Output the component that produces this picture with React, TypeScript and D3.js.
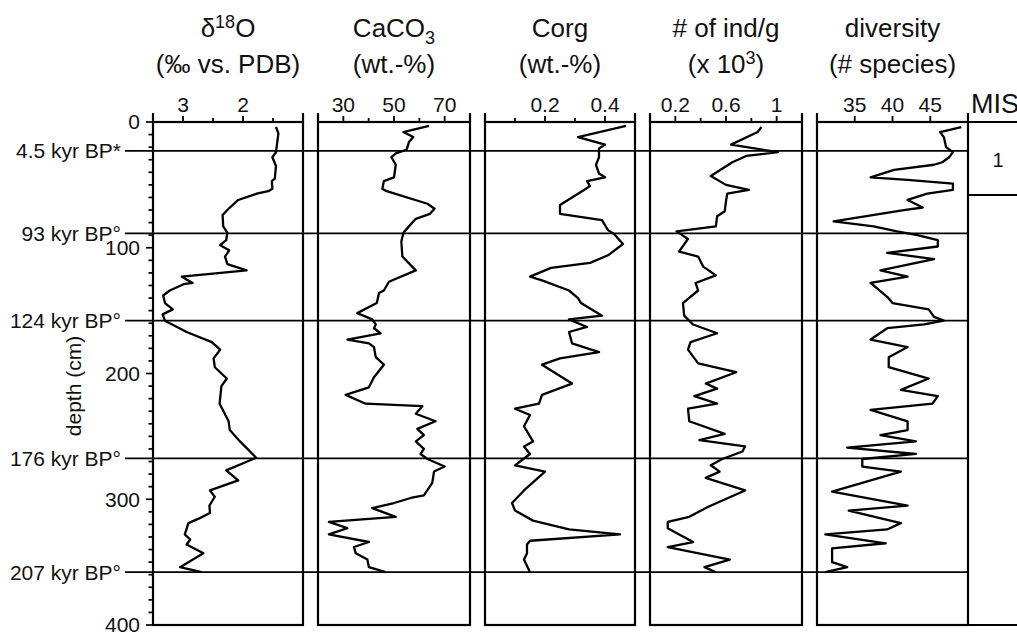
import { useEffect, useRef } from "react";
import * as d3 from "d3";

// depth (cm) and values
const d18oDepth = [4, 9, 24, 28, 35, 45, 47, 53, 55, 57, 62, 69, 74, 83, 88, 94, 98, 102, 107, 113, 118, 123, 128, 129, 134, 138, 144, 149, 153, 158, 167, 175, 181, 188, 195, 204, 210, 224, 238, 245, 254, 267, 277, 285, 293, 298, 305, 311, 315, 319, 328, 332, 336, 343, 354, 358];
const d18oValue = [1.45, 1.41, 1.45, 1.51, 1.45, 1.47, 1.52, 1.51, 1.58, 1.77, 2.08, 2.24, 2.34, 2.33, 2.26, 2.28, 2.38, 2.23, 2.3, 2.26, 1.94, 3.02, 2.84, 2.99, 3.22, 3.33, 3.3, 3.17, 3.34, 3.3, 2.94, 2.52, 2.38, 2.49, 2.47, 2.27, 2.36, 2.39, 2.24, 2.22, 2.05, 1.78, 2.28, 2.08, 2.55, 2.47, 2.56, 2.55, 2.72, 2.91, 2.97, 2.88, 2.94, 2.66, 3.05, 2.69];

const caco3Depth = [3, 8, 12, 16, 22, 25, 28, 34, 44, 47, 53, 55, 65, 69, 73, 77, 83, 88, 95, 107, 118, 127, 134, 136, 144, 152, 157, 161, 164, 168, 173, 176, 179, 187, 193, 203, 211, 217, 224, 226, 232, 238, 244, 249, 254, 260, 264, 268, 274, 278, 287, 297, 299, 303, 307, 314, 318, 323, 328, 334, 338, 343, 348, 354, 358];
const caco3Value = [63.8, 53.7, 57.6, 55.9, 55, 50.7, 49, 50.7, 50, 46, 45.4, 47.1, 63.2, 66, 64.2, 58.6, 55.9, 53.7, 52.9, 53.3, 58.6, 48, 46, 44.1, 43.2, 35.5, 41.4, 42.8, 42.1, 44.7, 31.6, 40.1, 42.1, 42.8, 46, 42.1, 40.1, 30.9, 38.8, 61.2, 58.6, 66.4, 59.2, 61.8, 58.6, 61.8, 60.5, 63.2, 70, 65.8, 65.1, 61.8, 56.6, 50, 41.4, 50.7, 24.3, 31.6, 24.3, 40.1, 34.2, 34.9, 39.5, 40.1, 46.7];

const corgDepth = [3, 12, 18, 21, 28, 34, 41, 44, 47, 51, 54, 66, 73, 78, 86, 89, 97, 106, 112, 116, 123, 126, 134, 140, 144, 154, 157, 163, 167, 176, 183, 188, 193, 208, 217, 224, 228, 233, 242, 254, 258, 264, 273, 278, 293, 303, 309, 317, 324, 328, 333, 336, 343, 348, 358];
const corgValue = [0.47, 0.31, 0.4, 0.38, 0.38, 0.37, 0.38, 0.4, 0.34, 0.35, 0.33, 0.25, 0.25, 0.39, 0.41, 0.43, 0.46, 0.41, 0.35, 0.22, 0.15, 0.19, 0.28, 0.31, 0.32, 0.39, 0.28, 0.34, 0.28, 0.29, 0.38, 0.25, 0.19, 0.29, 0.19, 0.18, 0.1, 0.15, 0.13, 0.16, 0.13, 0.15, 0.1, 0.2, 0.13, 0.09, 0.1, 0.16, 0.28, 0.45, 0.15, 0.14, 0.14, 0.13, 0.15];

const indDepth = [4, 8, 18, 24, 27, 32, 43, 50, 54, 57, 63, 71, 75, 83, 87, 93, 103, 107, 115, 122, 128, 134, 144, 154, 161, 168, 175, 181, 192, 199, 208, 212, 218, 224, 228, 238, 248, 253, 258, 262, 268, 273, 278, 283, 293, 306, 314, 318, 323, 334, 338, 348, 354, 358];
const indValue = [0.88, 0.85, 0.64, 1.01, 0.76, 0.65, 0.48, 0.6, 0.78, 0.61, 0.6, 0.59, 0.53, 0.52, 0.21, 0.3, 0.23, 0.38, 0.42, 0.52, 0.36, 0.38, 0.26, 0.27, 0.34, 0.53, 0.32, 0.3, 0.38, 0.68, 0.44, 0.53, 0.35, 0.53, 0.3, 0.31, 0.59, 0.39, 0.75, 0.73, 0.57, 0.48, 0.55, 0.44, 0.75, 0.46, 0.31, 0.14, 0.14, 0.34, 0.14, 0.63, 0.43, 0.52];

const divDepth = [4, 8, 12, 20, 24, 28, 32, 34, 38, 44, 46, 49, 54, 57, 62, 68, 70, 79, 83, 87, 90, 94, 99, 104, 109, 118, 123, 128, 139, 144, 149, 155, 158, 161, 164, 173, 179, 187, 195, 204, 213, 218, 224, 229, 238, 245, 249, 254, 259, 264, 268, 274, 278, 294, 305, 309, 319, 324, 328, 335, 339, 350, 354, 358];
const divValue = [49.1, 46.3, 46.8, 47.1, 48, 47.5, 46.6, 45.5, 40.2, 37.1, 42, 48, 48, 44.6, 42, 44, 41.5, 32.2, 37.5, 40.6, 43.3, 46, 46, 39.3, 45.5, 38.4, 42, 37.1, 39.3, 40, 44.8, 45.5, 46.8, 44.2, 39.3, 37.1, 42, 39.5, 39.5, 44.8, 41.1, 46, 45.3, 37.1, 42, 42, 38.4, 43.1, 34, 43.1, 36, 36, 41.1, 32, 42, 34.2, 41.1, 39.3, 31.1, 39.1, 32, 32, 34, 31.1];

// age tie points
const kyrDepth = [23, 88.5, 158, 267.5, 358];
const kyrLabel = ["4.5 kyr BP*", "93 kyr BP°", "124 kyr BP°", "176 kyr BP°", "207 kyr BP°"];

const depthLabels = [0, 100, 200, 300, 400];

type Part = [string, string];

const panels = [
  {
    title: [[["δ", ""], ["18", "sup"], ["O", ""]], [["(‰ vs. PDB)", ""]]] as Part[][],
    x: [153, 303], domain: [3.5, 1.0],
    major: [3, 2], minor: [2.5, 1.5],
    depth: d18oDepth, value: d18oValue,
  },
  {
    title: [[["CaCO", ""], ["3", "sub"]], [["(wt.-%)", ""]]] as Part[][],
    x: [318, 470], domain: [20, 80],
    major: [30, 50, 70], minor: [40, 60],
    depth: caco3Depth, value: caco3Value,
  },
  {
    title: [[["Corg", ""]], [["(wt.-%)", ""]]] as Part[][],
    x: [485, 635], domain: [0, 0.5],
    major: [0.2, 0.4], minor: [0.1, 0.3],
    depth: corgDepth, value: corgValue,
  },
  {
    title: [[["# of ind/g", ""]], [["(x 10", ""], ["3", "sup"], [")", ""]]] as Part[][],
    x: [650, 802], domain: [0, 1.2],
    major: [0.2, 0.6, 1], minor: [0.4, 0.8],
    depth: indDepth, value: indValue,
  },
  {
    title: [[["diversity", ""]], [["(# species)", ""]]] as Part[][],
    x: [817, 968], domain: [30, 50],
    major: [35, 40, 45], minor: [] as number[],
    depth: divDepth, value: divValue,
  },
];

export default function App() {
  const ref = useRef<SVGSVGElement>(null);

  useEffect(() => {
    const svg = d3.select(ref.current);
    svg.selectAll("*").remove();
    const font = "'Liberation Sans', Arial, Helvetica, sans-serif";
    svg.attr("font-family", font).attr("fill", "#111");

    const top = 122, bottom = 625;
    const y = d3.scaleLinear().domain([0, 400]).range([top, bottom]);

    // age lines across all panels
    kyrDepth.forEach((d, i) => {
      svg.append("line")
        .attr("x1", 125).attr("x2", 968)
        .attr("y1", y(d)).attr("y2", y(d))
        .attr("stroke", "#000").attr("stroke-width", 1.7);
      svg.append("text")
        .attr("x", 121).attr("y", y(d)).attr("dy", "0.35em")
        .attr("text-anchor", "end").attr("font-size", 21)
        .text(kyrLabel[i]);
    });

    // depth axis
    d3.range(0, 401, 10).forEach((d) => {
      const len = d % 100 === 0 ? 7 : 4.5;
      svg.append("line")
        .attr("x1", 153 - len).attr("x2", 153)
        .attr("y1", y(d)).attr("y2", y(d))
        .attr("stroke", "#000").attr("stroke-width", 1.7);
    });
    depthLabels.forEach((d) => {
      svg.append("text")
        .attr("x", 140).attr("y", y(d)).attr("dy", "0.35em")
        .attr("text-anchor", "end").attr("font-size", 21)
        .text(d);
    });
    svg.append("text")
      .attr("transform", "translate(81,386) rotate(-90)")
      .attr("text-anchor", "middle").attr("font-size", 21)
      .text("depth (cm)");

    panels.forEach((p) => {
      const x = d3.scaleLinear().domain(p.domain).range(p.x);
      const g = svg.append("g");

      g.append("rect")
        .attr("x", p.x[0]).attr("y", top)
        .attr("width", p.x[1] - p.x[0]).attr("height", bottom - top)
        .attr("fill", "none").attr("stroke", "#000").attr("stroke-width", 2.2);
      [p.x[0], p.x[1]].forEach((xx) => {
        g.append("line")
          .attr("x1", xx).attr("x2", xx).attr("y1", 113).attr("y2", top)
          .attr("stroke", "#000").attr("stroke-width", 2.2);
      });

      p.major.forEach((t) => {
        g.append("line")
          .attr("x1", x(t)).attr("x2", x(t)).attr("y1", top - 6).attr("y2", top)
          .attr("stroke", "#000").attr("stroke-width", 1.8);
        g.append("text")
          .attr("x", x(t)).attr("y", 112)
          .attr("text-anchor", "middle").attr("font-size", 21)
          .text(String(t));
      });
      p.minor.forEach((t) => {
        g.append("line")
          .attr("x1", x(t)).attr("x2", x(t)).attr("y1", top - 4).attr("y2", top)
          .attr("stroke", "#000").attr("stroke-width", 1.8);
      });

      const cx = (p.x[0] + p.x[1]) / 2;
      p.title.forEach((line, li) => {
        const txt = g.append("text")
          .attr("x", cx).attr("y", li === 0 ? 37 : 73)
          .attr("text-anchor", "middle").attr("font-size", 26);
        let shift = 0;
        line.forEach(([s, kind]) => {
          const target = kind === "sup" ? -9 : kind === "sub" ? 7 : 0;
          txt.append("tspan")
            .attr("dy", target - shift)
            .attr("font-size", kind ? 18 : 26)
            .text(s);
          shift = target;
        });
      });

      const line = d3.line<number>()
        .x((v) => x(v))
        .y((_, i) => y(p.depth[i]));
      g.append("path")
        .attr("d", line(p.value))
        .attr("fill", "none").attr("stroke", "#000")
        .attr("stroke-width", 2.3).attr("stroke-linejoin", "round");
    });

    // MIS column
    svg.append("line").attr("x1", 968).attr("x2", 1017).attr("y1", top).attr("y2", top)
      .attr("stroke", "#000").attr("stroke-width", 2.2);
    svg.append("line").attr("x1", 968).attr("x2", 1017).attr("y1", 195).attr("y2", 195)
      .attr("stroke", "#000").attr("stroke-width", 2.2);
    svg.append("line").attr("x1", 968).attr("x2", 1017).attr("y1", bottom).attr("y2", bottom)
      .attr("stroke", "#000").attr("stroke-width", 2.2);
    svg.append("text").attr("x", 971).attr("y", 113).attr("font-size", 27).text("MIS");
    svg.append("text").attr("x", 998).attr("y", 167)
      .attr("text-anchor", "middle").attr("font-size", 20).text("1");
  }, []);

  return (
    <svg
      ref={ref}
      width={1017}
      height={633}
      style={{ position: "absolute", left: 0, top: 0, background: "#fff" }}
    />
  );
}
